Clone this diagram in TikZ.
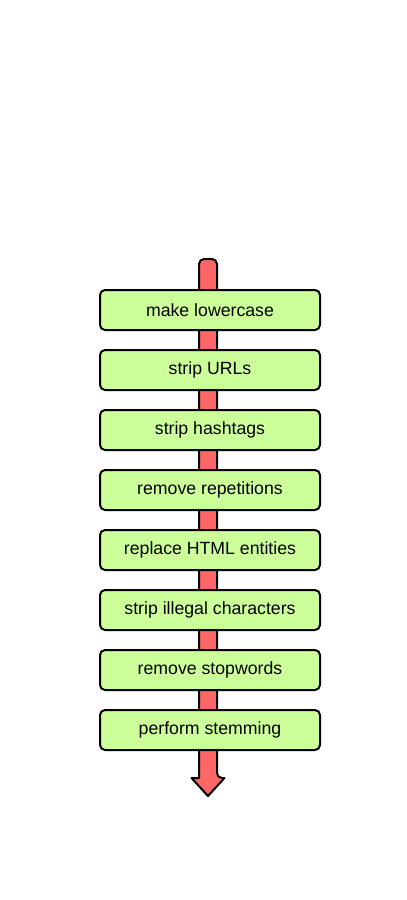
\documentclass[tikz,border=0pt]{standalone}
\usepackage{fontspec}
\setmainfont{Liberation Sans}
\usetikzlibrary{calc, positioning}

\definecolor{stepgreen}{RGB}{204,255,153}
\definecolor{flowred}{RGB}{255,102,102}

\begin{document}
\begin{tikzpicture}[x=1pt, y=-1pt,
  stepbox/.style={draw, fill=stepgreen, line width=2pt, rounded corners=5pt,
    minimum width=220pt, minimum height=40pt, outer sep=0pt,
    font=\fontsize{17.7}{20}\selectfont},
  flowbody/.style={draw, fill=flowred, line width=2pt, line join=round},
]
  \useasboundingbox (0,0) rectangle (407,900);
  \coordinate (top) at (208,259);
  \coordinate (tip) at (208,796);
  % pipeline arrow behind the steps
  \draw[flowbody] ($(tip)+(-9,-18)$) [rounded corners=5pt] |- (top)
    -| ($(tip)+(9,-18)$) [sharp corners] -- ++(7.5,0) -- (tip)
    -- ++(-16.5,-18) -- cycle;
  \node[stepbox] (lowercase) at (210,310) {make lowercase};
  \foreach \name/\txt [remember=\name as \prev (initially lowercase)] in
    {urls/strip URLs, hashtags/strip hashtags, reps/remove repetitions,
     html/replace HTML entities, illegal/strip illegal characters,
     stopwords/remove stopwords, stemming/perform stemming}
    \node[stepbox, below=20pt of \prev] (\name) {\txt};
\end{tikzpicture}
\end{document}
